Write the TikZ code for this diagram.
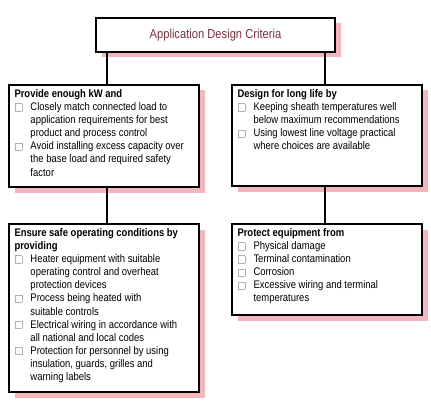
\documentclass[tikz,border=0pt]{standalone}
\usepackage{fontspec}
\setmainfont{Liberation Sans}[FakeStretch=0.86]
\usetikzlibrary{shadows,calc}
\definecolor{shadowpink}{HTML}{F2B6BC}
\definecolor{titlered}{HTML}{7A3042}
\newcommand{\chk}{{\setlength{\fboxsep}{0pt}\setlength{\fboxrule}{0.6pt}\fcolorbox{black!30}{white}{\rule{0pt}{6.6pt}\rule{6.6pt}{0pt}}}}
\newcommand{\itm}[1]{\par\hangindent=16pt\hangafter=1\noindent\makebox[16pt][l]{\raisebox{0pt}{\chk}}#1}
\newcommand{\hd}[1]{\noindent\textbf{#1}}
\tikzset{
  critbox/.style={draw=black, line width=1.4pt, fill=white, inner sep=0pt,
    drop shadow={shadow xshift=5.5pt, shadow yshift=-5.5pt, fill=shadowpink, opacity=1}},
  crittext/.style={anchor=north west, inner sep=0pt,
    font=\fontsize{11}{13.1}\selectfont},
  link/.style={draw=black, line width=1.2pt}
}
\newcommand{\cbody}[1]{\parbox[t]{186pt}{\raggedright #1}}
\begin{document}
\begin{tikzpicture}[x=1pt,y=1pt]
\useasboundingbox (0,0) rectangle (431,-401);
\node[critbox, minimum width=239pt, minimum height=34pt,
  font=\fontsize{13}{15}\selectfont, text=titlered] (title) at (215.5,-35) {Application Design Criteria};
\node[critbox, minimum width=190pt, minimum height=102pt] (b1) at (104,-136) {};
\node[critbox, minimum width=190pt, minimum height=101pt] (b2) at (327,-135.5) {};
\node[critbox, minimum width=190pt, minimum height=168pt] (b3) at (104,-308) {};
\node[critbox, minimum width=190pt, minimum height=91pt] (b4) at (327,-269.5) {};
\coordinate (cl) at (107,0);
\coordinate (cr) at (325,0);
\draw[link] (title.south -| cl) -- (b1.north -| cl);
\draw[link] (b1.south -| cl) -- (b3.north -| cl);
\draw[link] (title.south -| cr) -- (b2.north -| cr);
\draw[link] (b2.south -| cr) -- (b4.north -| cr);
\node[crittext] (t1) at ($(b1.north west)+(6,-5)$) {\cbody{%
\hd{Provide enough kW and}
\itm{Closely match connected load to\newline application requirements for best\newline product and process control}
\itm{Avoid installing excess capacity over\newline the base load and required safety\newline factor}}};
\node[crittext] (t2) at ($(b2.north west)+(6,-5)$) {\cbody{%
\hd{Design for long life by}
\itm{Keeping sheath temperatures well\newline below maximum recommendations}
\itm{Using lowest line voltage practical\newline where choices are available}}};
\node[crittext] (t3) at ($(b3.north west)+(6,-5)$) {\cbody{%
\hd{Ensure safe operating conditions by\newline providing}
\itm{Heater equipment with suitable\newline operating control and overheat\newline protection devices}
\itm{Process being heated with\newline suitable controls}
\itm{Electrical wiring in accordance with\newline all national and local codes}
\itm{Protection for personnel by using\newline insulation, guards, grilles and\newline warning labels}}};
\node[crittext] (t4) at ($(b4.north west)+(6,-5)$) {\cbody{%
\hd{Protect equipment from}
\itm{Physical damage}
\itm{Terminal contamination}
\itm{Corrosion}
\itm{Excessive wiring and terminal\newline temperatures}}};
\end{tikzpicture}
\end{document}
